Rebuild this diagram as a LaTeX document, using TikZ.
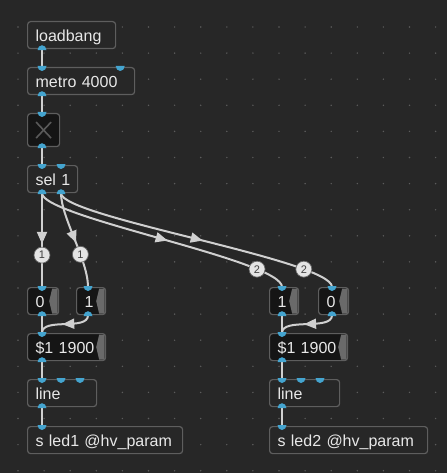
\documentclass[tikz,border=0pt]{standalone}
\usepackage{fontspec}
\setmainfont{Liberation Sans}
\usetikzlibrary{arrows.meta,decorations.markings}
\definecolor{bg}{HTML}{272727}
\definecolor{bord}{HTML}{5E5E5E}
\definecolor{portc}{HTML}{44A4CF}
\definecolor{cord}{HTML}{D0D0D0}
\definecolor{txt}{HTML}{E8E8E8}
\definecolor{dotc}{HTML}{5C5C5C}
\definecolor{msgfill}{HTML}{151515}
\definecolor{tabc}{HTML}{6A6A6A}
\definecolor{badgec}{HTML}{E4E4E4}
\definecolor{xcol}{HTML}{5A5A5A}
\tikzset{
  obj/.style={draw=bord, line width=1.2pt, rounded corners=3pt, fill=bg,
    anchor=north west, minimum height=27pt, inner xsep=8pt, inner ysep=0pt,
    text height=13pt, text depth=0pt, align=left,
    font=\fontsize{16}{16}\selectfont, text=txt},
  msgbox/.style={obj, fill=msgfill},
  cordline/.style={draw=cord, line width=2pt},
  badgenode/.style={circle, fill=badgec, draw=black!60, line width=0.7pt,
    inner sep=0pt, minimum size=16pt, font=\fontsize{11}{11}\selectfont, text=black!75},
  midarrow/.style={postaction={decorate}, decoration={markings,
    mark=at position #1 with {\arrow{Triangle[length=12pt,width=10pt]}}}},
}
\newcommand\inlt[1]{\fill[portc] ([xshift=-4.5pt,yshift=1pt]#1) arc[start angle=180,end angle=360,x radius=4.5pt,y radius=5pt] -- cycle;}
\newcommand\outlt[1]{\fill[portc] ([xshift=-4.5pt,yshift=-1pt]#1) arc[start angle=180,end angle=0,x radius=4.5pt,y radius=5pt] -- cycle;}
\newcommand\msgtab[1]{\fill[tabc] ([xshift=-7pt,yshift=-1.5pt]#1.north east) -- ([xshift=-1.5pt,yshift=-1.5pt]#1.north east) -- ([xshift=-1.5pt,yshift=1.5pt]#1.south east) -- ([xshift=-7pt,yshift=1.5pt]#1.south east) -- ([xshift=-10pt]#1.east) -- cycle;}
\begin{document}
\begin{tikzpicture}[x=1pt,y=-1pt]
\fill[bg] (0,0) rectangle (447,473);
\useasboundingbox (0,0) rectangle (447,473);
\foreach \i in {0,...,16} \foreach \j in {0,...,17}
  \fill[dotc] (18+26.1*\i,27+26.1*\j) circle[radius=0.8pt];

% boxes
\node[obj, text width=72pt] (lb) at (27,21) {\mbox{loadbang}};
\node[obj, text width=91pt] (mt) at (27,67) {\mbox{metro 4000}};
\node[draw=bord, line width=1.2pt, rounded corners=3pt, fill=msgfill, anchor=north west,
  minimum width=32pt, minimum height=33pt, inner sep=0pt] (tg) at (27,113) {};
\draw[xcol, line width=1.6pt] ([xshift=-7.5pt,yshift=8pt]tg.center) -- ([xshift=7.5pt,yshift=-8pt]tg.center)
  ([xshift=-7.5pt,yshift=-8pt]tg.center) -- ([xshift=7.5pt,yshift=8pt]tg.center);
\node[obj, text width=34pt] (sl) at (27,165) {\mbox{sel 1}};

\node[msgbox, text width=15pt] (m0a) at (27,287) {0};
\node[msgbox, text width=13pt] (m1a) at (76,287) {1};
\node[msgbox, text width=13pt] (m1b) at (269,287) {1};
\node[msgbox, text width=14pt] (m0b) at (318,287) {0};
\node[msgbox, text width=62pt] (da) at (27,333) {\mbox{\$1 1900}};
\node[msgbox, text width=62pt] (db) at (269,333) {\mbox{\$1 1900}};
\foreach \n in {m0a,m1a,m1b,m0b,da,db} {\msgtab{\n}}
\node[obj, text width=53pt] (la) at (27,379) {line};
\node[obj, text width=54pt] (lbx) at (269,379) {line};
\node[obj, text width=139pt] (sa) at (27,426) {\mbox{s led1 @hv\_param}};
\node[obj, text width=142pt] (sb) at (269,426) {\mbox{s led2 @hv\_param}};

% ports
\coordinate (lb-o) at ([xshift=15pt]lb.south west);
\coordinate (mt-i1) at ([xshift=15pt]mt.north west);
\coordinate (mt-i2) at ([xshift=-15pt]mt.north east);
\coordinate (mt-o) at ([xshift=15pt]mt.south west);
\coordinate (tg-i) at ([xshift=15pt]tg.north west);
\coordinate (tg-o) at ([xshift=15pt]tg.south west);
\coordinate (sl-i1) at ([xshift=15pt]sl.north west);
\coordinate (sl-i2) at ([xshift=34pt]sl.north west);
\coordinate (sl-o1) at ([xshift=15pt]sl.south west);
\coordinate (sl-o2) at ([xshift=34pt]sl.south west);
\coordinate (m0a-i) at ([xshift=15pt]m0a.north west);
\coordinate (m0a-o) at ([xshift=15pt]m0a.south west);
\coordinate (m1a-i) at ([xshift=12pt]m1a.north west);
\coordinate (m1a-o) at ([xshift=12pt]m1a.south west);
\coordinate (m1b-i) at ([xshift=13pt]m1b.north west);
\coordinate (m1b-o) at ([xshift=13pt]m1b.south west);
\coordinate (m0b-i) at ([xshift=14pt]m0b.north west);
\coordinate (m0b-o) at ([xshift=14pt]m0b.south west);
\coordinate (da-i) at ([xshift=15pt]da.north west);
\coordinate (da-o) at ([xshift=15pt]da.south west);
\coordinate (db-i) at ([xshift=13pt]db.north west);
\coordinate (db-o) at ([xshift=13pt]db.south west);
\coordinate (la-i1) at ([xshift=15pt]la.north west);
\coordinate (la-i2) at ([xshift=34pt]la.north west);
\coordinate (la-i3) at ([xshift=53pt]la.north west);
\coordinate (la-o) at ([xshift=15pt]la.south west);
\coordinate (lbx-i1) at ([xshift=13pt]lbx.north west);
\coordinate (lbx-i2) at ([xshift=32pt]lbx.north west);
\coordinate (lbx-i3) at ([xshift=51pt]lbx.north west);
\coordinate (lbx-o) at ([xshift=13pt]lbx.south west);
\coordinate (sa-i) at ([xshift=15pt]sa.north west);
\coordinate (sb-i) at ([xshift=13pt]sb.north west);

% cords
\draw[cordline] (lb-o) -- (mt-i1);
\draw[cordline] (mt-o) -- (tg-i);
\draw[cordline] (tg-o) -- (sl-i1);
\draw[cordline, midarrow=0.54] (sl-o1) -- (m0a-i);
\draw[cordline, midarrow=0.53] (sl-o2) .. controls +(0,24) and +(0,-27) .. (m1a-i);
\draw[cordline, midarrow=0.52] (sl-o1) .. controls +(0,24) and +(0,-27) .. (m1b-i);
\draw[cordline, midarrow=0.52] (sl-o2) .. controls +(0,24) and +(0,-27) .. (m0b-i);
\draw[cordline] (m0a-o) -- (da-i);
\draw[cordline, midarrow=0.55] (m1a-o) .. controls +(0,16) and +(0,-16) .. (da-i);
\draw[cordline] (m1b-o) -- (db-i);
\draw[cordline, midarrow=0.55] (m0b-o) .. controls +(0,16) and +(0,-16) .. (db-i);
\draw[cordline] (da-o) -- (la-i1);
\draw[cordline] (db-o) -- (lbx-i1);
\draw[cordline] (la-o) -- (sa-i);
\draw[cordline] (lbx-o) -- (sb-i);

% badges
\path (sl-o1) -- (m0a-i) node[badgenode, pos=0.66] (b1) {1};
\path (sl-o2) .. controls +(0,24) and +(0,-27) .. (m1a-i) node[badgenode, pos=0.65] (b2) {1};
\path (sl-o1) .. controls +(0,24) and +(0,-27) .. (m1b-i) node[badgenode, pos=0.8] (b3) {2};
\path (sl-o2) .. controls +(0,24) and +(0,-27) .. (m0b-i) node[badgenode, pos=0.8] (b4) {2};

% port glyphs
\foreach \p in {mt-i1,mt-i2,tg-i,sl-i1,sl-i2,m0a-i,m1a-i,m1b-i,m0b-i,da-i,db-i,la-i1,la-i2,la-i3,lbx-i1,lbx-i2,lbx-i3,sa-i,sb-i} {\inlt{\p}}
\foreach \p in {lb-o,mt-o,tg-o,sl-o1,sl-o2,m0a-o,m1a-o,m1b-o,m0b-o,da-o,db-o,la-o,lbx-o} {\outlt{\p}}
\end{tikzpicture}
\end{document}
